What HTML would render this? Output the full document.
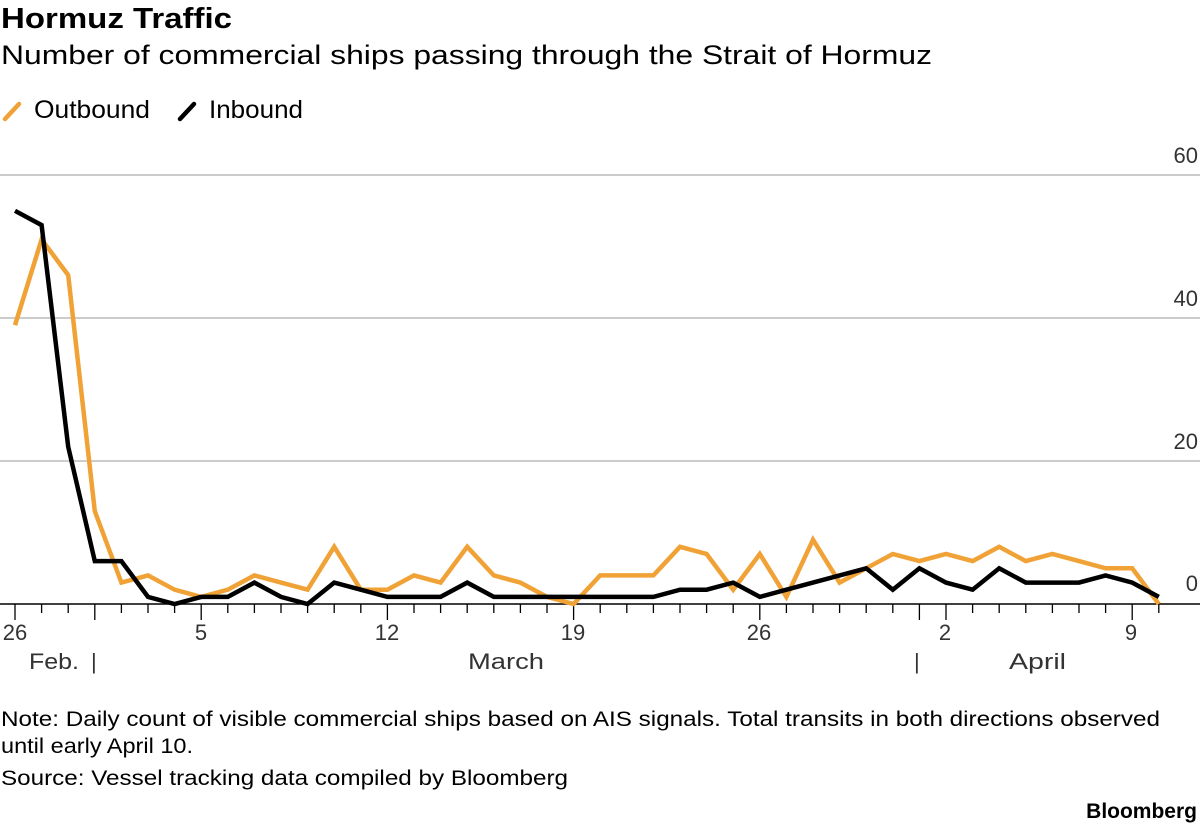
<!DOCTYPE html>
<html><head><meta charset="utf-8"><style>
body{margin:0;background:#fff;width:1200px;height:827px;overflow:hidden;font-family:"Liberation Sans",sans-serif;}
</style></head><body>
<svg width="1200" height="827" xmlns="http://www.w3.org/2000/svg" font-family="Liberation Sans, sans-serif">
<text x="1" y="28" font-size="29" font-weight="bold" fill="#000" textLength="231" lengthAdjust="spacingAndGlyphs">Hormuz Traffic</text>
<text x="1" y="64" font-size="27" fill="#000" textLength="931" lengthAdjust="spacingAndGlyphs">Number of commercial ships passing through the Strait of Hormuz</text>
<line x1="5" y1="119" x2="19" y2="104" stroke="#f0a236" stroke-width="4.5" stroke-linecap="round"/>
<text x="34" y="118" font-size="25" fill="#000" textLength="116" lengthAdjust="spacingAndGlyphs">Outbound</text>
<line x1="180" y1="119" x2="194" y2="104" stroke="#000" stroke-width="4.5" stroke-linecap="round"/>
<text x="209" y="118" font-size="25" fill="#000" textLength="94" lengthAdjust="spacingAndGlyphs">Inbound</text>
<g stroke="#ccc" stroke-width="2">
<line x1="0" y1="175" x2="1200" y2="175"/>
<line x1="0" y1="318" x2="1200" y2="318"/>
<line x1="0" y1="461" x2="1200" y2="461"/>
</g>
<g font-size="22" fill="#333" text-anchor="end">
<text x="1198" y="163">60</text>
<text x="1198" y="306">40</text>
<text x="1198" y="449">20</text>
<text x="1198" y="591">0</text>
</g>
<line x1="0" y1="604" x2="1200" y2="604" stroke="#000" stroke-width="1.5"/>
<g stroke="#000" stroke-width="1.3">
<line x1="15" y1="604" x2="15" y2="620"/><line x1="41.6" y1="604" x2="41.6" y2="613"/><line x1="68.2" y1="604" x2="68.2" y2="613"/><line x1="94.8" y1="604" x2="94.8" y2="620"/><line x1="121.4" y1="604" x2="121.4" y2="613"/><line x1="148" y1="604" x2="148" y2="613"/><line x1="174.6" y1="604" x2="174.6" y2="613"/><line x1="201.2" y1="604" x2="201.2" y2="620"/><line x1="227.8" y1="604" x2="227.8" y2="613"/><line x1="254.4" y1="604" x2="254.4" y2="613"/><line x1="281" y1="604" x2="281" y2="613"/><line x1="307.6" y1="604" x2="307.6" y2="613"/><line x1="334.2" y1="604" x2="334.2" y2="613"/><line x1="360.8" y1="604" x2="360.8" y2="613"/><line x1="387.4" y1="604" x2="387.4" y2="620"/><line x1="414" y1="604" x2="414" y2="613"/><line x1="440.6" y1="604" x2="440.6" y2="613"/><line x1="467.2" y1="604" x2="467.2" y2="613"/><line x1="493.8" y1="604" x2="493.8" y2="613"/><line x1="520.4" y1="604" x2="520.4" y2="613"/><line x1="547" y1="604" x2="547" y2="613"/><line x1="573.6" y1="604" x2="573.6" y2="620"/><line x1="600.2" y1="604" x2="600.2" y2="613"/><line x1="626.8" y1="604" x2="626.8" y2="613"/><line x1="653.4" y1="604" x2="653.4" y2="613"/><line x1="680" y1="604" x2="680" y2="613"/><line x1="706.6" y1="604" x2="706.6" y2="613"/><line x1="733.2" y1="604" x2="733.2" y2="613"/><line x1="759.8" y1="604" x2="759.8" y2="620"/><line x1="786.4" y1="604" x2="786.4" y2="613"/><line x1="813" y1="604" x2="813" y2="613"/><line x1="839.6" y1="604" x2="839.6" y2="613"/><line x1="866.2" y1="604" x2="866.2" y2="613"/><line x1="892.8" y1="604" x2="892.8" y2="613"/><line x1="919.4" y1="604" x2="919.4" y2="620"/><line x1="946" y1="604" x2="946" y2="620"/><line x1="972.6" y1="604" x2="972.6" y2="613"/><line x1="999.2" y1="604" x2="999.2" y2="613"/><line x1="1025.8" y1="604" x2="1025.8" y2="613"/><line x1="1052.4" y1="604" x2="1052.4" y2="613"/><line x1="1079" y1="604" x2="1079" y2="613"/><line x1="1105.6" y1="604" x2="1105.6" y2="613"/><line x1="1132.2" y1="604" x2="1132.2" y2="620"/><line x1="1158.8" y1="604" x2="1158.8" y2="613"/>
</g>
<g font-size="22" fill="#333" text-anchor="middle">
<text x="15" y="640">26</text>
<text x="201" y="640">5</text>
<text x="387" y="640">12</text>
<text x="573" y="640">19</text>
<text x="759" y="640">26</text>
<text x="945" y="640">2</text>
<text x="1131" y="640">9</text>
</g>
<g font-size="22" fill="#333">
<text x="29" y="669" textLength="50" lengthAdjust="spacingAndGlyphs">Feb.</text>
<text x="91" y="669">|</text>
<text x="468" y="669" textLength="76" lengthAdjust="spacingAndGlyphs">March</text>
<text x="914" y="669">|</text>
<text x="1009" y="669" textLength="57" lengthAdjust="spacingAndGlyphs">April</text>
</g>
<polyline fill="none" stroke="#f0a236" stroke-width="4.5" points="15,325.2 41.6,239.4 68.2,275.1 94.8,511.1 121.4,582.6 148,575.4 174.6,589.7 201.2,596.9 227.8,589.7 254.4,575.4 281,582.6 307.6,589.7 334.2,546.8 360.8,589.7 387.4,589.7 414,575.4 440.6,582.6 467.2,546.8 493.8,575.4 520.4,582.6 547,596.9 573.6,604 600.2,575.4 626.8,575.4 653.4,575.4 680,546.8 706.6,554 733.2,589.7 759.8,554 786.4,596.9 813,539.7 839.6,582.6 866.2,568.3 892.8,554 919.4,561.1 946,554 972.6,561.1 999.2,546.8 1025.8,561.1 1052.4,554 1079,561.1 1105.6,568.3 1132.2,568.3 1158.8,604"/>
<polyline fill="none" stroke="#000" stroke-width="4.5" points="15,210.8 41.6,225.1 68.2,446.7 94.8,561.1 121.4,561.1 148,596.9 174.6,604 201.2,596.9 227.8,596.9 254.4,582.6 281,596.9 307.6,604 334.2,582.6 360.8,589.7 387.4,596.9 414,596.9 440.6,596.9 467.2,582.6 493.8,596.9 520.4,596.9 547,596.9 573.6,596.9 600.2,596.9 626.8,596.9 653.4,596.9 680,589.7 706.6,589.7 733.2,582.6 759.8,596.9 786.4,589.7 813,582.6 839.6,575.4 866.2,568.3 892.8,589.7 919.4,568.3 946,582.6 972.6,589.7 999.2,568.3 1025.8,582.6 1052.4,582.6 1079,582.6 1105.6,575.4 1132.2,582.6 1158.8,596.9"/>
<g font-size="21" fill="#000">
<text x="1" y="726" textLength="1159" lengthAdjust="spacingAndGlyphs">Note: Daily count of visible commercial ships based on AIS signals. Total transits in both directions observed</text>
<text x="1" y="753" textLength="192" lengthAdjust="spacingAndGlyphs">until early April 10.</text>
<text x="1" y="785" textLength="567" lengthAdjust="spacingAndGlyphs">Source: Vessel tracking data compiled by Bloomberg</text>
</g>
<text x="1197" y="818" font-size="21" font-weight="bold" text-anchor="end" fill="#000">Bloomberg</text>
</svg>
</body></html>
